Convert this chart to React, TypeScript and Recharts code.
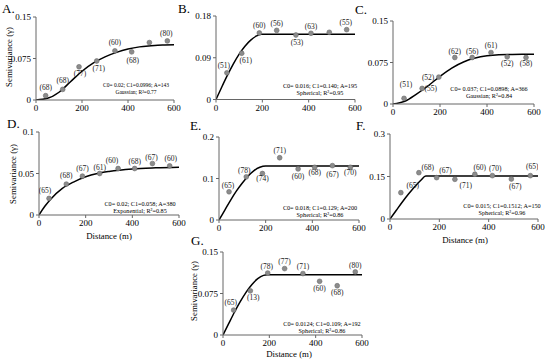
import React from 'react';
import { ComposedChart, Line, Scatter, XAxis, YAxis } from 'recharts';

const FONT = "'Liberation Serif', 'Times New Roman', serif";
const distanceTicks = [0, 200, 400, 600];

// ---------- Panel A (Gaussian) ----------
const aLag = [42, 116, 187, 264, 343, 416, 493, 571];
const aGamma = [0.0078, 0.0192, 0.06, 0.0705, 0.0888, 0.087, 0.1038, 0.1068];
const aPairs = [68, 68, 77, 71, 60, 68, null, 80];
const aModelDist = [0, 50, 100, 150, 200, 250, 300, 350, 400, 450, 500, 550, 600];
const aModelGamma = [0, 0.003, 0.014, 0.033, 0.052, 0.067, 0.078, 0.086, 0.092, 0.096, 0.098, 0.0995, 0.1];
const aYTicks = [0, 0.075, 0.15];

// ---------- Panel B (Spherical) ----------
const bLag = [47, 111, 187, 262, 345, 410, 489, 564];
const bGamma = [0.0574, 0.0997, 0.1434, 0.149, 0.139, 0.1427, 0.1449, 0.1506];
const bPairs = [51, 61, 60, 56, 53, 63, null, 55];
const bModelDist = [0, 25, 50, 75, 100, 125, 150, 175, 195, 600];
const bModelGamma = [0, 0.027, 0.053, 0.077, 0.098, 0.115, 0.128, 0.137, 0.1405, 0.1405];
const bYTicks = [0, 0.09, 0.18];

// ---------- Panel C (Gaussian) ----------
const cLag = [47, 124, 195, 263, 337, 417, 486, 566];
const cGamma = [0.0102, 0.0282, 0.0486, 0.084, 0.084, 0.093, 0.0852, 0.084];
const cPairs = [51, 52, 55, 62, 56, 61, 52, 58];
const cModelDist = [0, 50, 100, 150, 200, 250, 300, 350, 400, 450, 500, 550, 600];
const cModelGamma = [0, 0.005, 0.018, 0.033, 0.05, 0.065, 0.076, 0.083, 0.087, 0.089, 0.0895, 0.0898, 0.0898];
const cYTicks = [0, 0.075, 0.15];

// ---------- Panel D (Exponential) ----------
const dLag = [43, 117, 186, 260, 339, 410, 486, 560];
const dGamma = [0.02, 0.0372, 0.0468, 0.05, 0.056, 0.056, 0.062, 0.0592];
const dPairs = [65, 68, 67, 61, 60, 68, 67, 60];
const dModelDist = [0, 25, 50, 100, 150, 200, 250, 300, 400, 500, 600];
const dModelGamma = [0, 0.0105, 0.019, 0.032, 0.04, 0.046, 0.05, 0.0525, 0.0555, 0.0568, 0.0575];
const dYTicks = [0, 0.05, 0.1];

// ---------- Panel E (Spherical) ----------
const eLag = [43, 117, 186, 260, 339, 410, 486, 563];
const eGamma = [0.068, 0.104, 0.112, 0.15, 0.123, 0.127, 0.131, 0.127];
const ePairs = [65, 78, 74, 71, 60, 68, 67, 70];
const eModelDist = [0, 25, 50, 75, 100, 125, 150, 175, 200, 600];
const eModelGamma = [0, 0.024, 0.048, 0.07, 0.089, 0.106, 0.119, 0.127, 0.13, 0.13];
const eYTicks = [0, 0.1, 0.2];

// ---------- Panel F (Spherical) ----------
const fLag = [44, 117, 189, 263, 344, 415, 492, 569];
const fGamma = [0.093, 0.1635, 0.146, 0.14, 0.158, 0.153, 0.141, 0.153];
const fPairs = [65, 68, 67, 71, 60, 70, 67, 65];
const fModelDist = [0, 25, 50, 75, 100, 125, 145, 600];
const fModelGamma = [0, 0.03, 0.06, 0.088, 0.114, 0.137, 0.1518, 0.1518];
const fYTicks = [0, 0.15, 0.3];

// ---------- Panel G (Spherical) ----------
const gLag = [46, 118, 193, 266, 345, 417, 493, 571];
const gGamma = [0.045, 0.0798, 0.112, 0.12, 0.111, 0.097, 0.089, 0.114];
const gPairs = [65, 13, 78, 77, 71, 60, 68, 80];
const gModelDist = [0, 25, 50, 75, 100, 125, 150, 175, 192, 600];
const gModelGamma = [0, 0.021, 0.0416, 0.0606, 0.0775, 0.0914, 0.1018, 0.1078, 0.109, 0.109];
const gYTicks = [0, 0.075, 0.15];

// label nudges (layout only): [dx, dy] of the pair-count label centre relative to its point
const aNudge = [[0, -7], [0, -7.5], [1, 6], [2, 7], [0, -7], [1, 8], [0, 0], [-1, -7]];
const bNudge = [[-3, -6], [4, 6.5], [0, -6.5], [0, -6], [1, 7], [0, -6], [0, 0], [-1, -6]];
const cNudge = [[2, -13], [6, -9.5], [-8, 11], [0, -5.5], [0, -5.5], [0, -6], [0, 6], [0, 6]];
const dNudge = [[-4, -7.5], [0, -7.5], [0, -7], [0, -5.5], [-6, -7.5], [0, -6], [-1, -5.5], [1, -6.5]];
const eNudge = [[-1, -5], [-2, -5], [0, 5], [0, -6], [0, 7], [0, 5], [0, 8.5], [0, 5]];
const fNudge = [[12, -6], [9, -4.5], [9, -6], [11, 6], [5, -6], [3, -6], [4, 7], [2, -8]];
const gNudge = [[-3, -7], [3, 6], [-1, -6], [0, -6], [0, -6], [0, 7], [0, 6], [0, -6]];

type Rect = { x0: number; x1: number; yT: number; yB: number };

const renderPoint = (props: any) => {
  const { cx, cy, payload } = props;
  if (cx == null || cy == null) return <g />;
  const n = payload.n;
  const nudge = payload.nudge || [0, 0];
  const dy = nudge[1] < 0 ? nudge[1] - 1 : nudge[1] + 0.3;
  return (
    <g>
      <circle cx={cx} cy={cy} r={2.4} fill="#8c8c8c" stroke="#6a6a6a" strokeWidth={0.6} />
      {n != null && (
        <text
          x={cx + nudge[0]}
          y={cy + dy + 2.6}
          textAnchor="middle"
          fontSize={7.5}
          fontFamily={FONT}
          fill="#222"
        >
          {`(${n})`}
        </text>
      )}
    </g>
  );
};

function Panel(props: {
  rect: Rect;
  yMax: number;
  yTicks: number[];
  lag: number[];
  gamma: number[];
  pairs: (number | null)[];
  nudges: number[][];
  modelDist: number[];
  modelGamma: number[];
}) {
  const { rect, yMax, yTicks, lag, gamma, pairs, nudges, modelDist, modelGamma } = props;
  const LW = 40;
  const TM = 8;
  const RM = 10;
  const BH = 26;
  const w = rect.x1 - rect.x0 + LW + RM;
  const h = rect.yB - rect.yT + TM + BH;
  const points = lag.map((d, i) => ({ d, g: gamma[i], n: pairs[i], nudge: nudges[i] }));
  const curve = modelDist.map((d, i) => ({ d, g: modelGamma[i] }));
  const tickStyle = { fontSize: 9, fill: '#000', fontFamily: FONT };
  return (
    <div style={{ position: 'absolute', left: rect.x0 - LW, top: rect.yT - TM }}>
      <ComposedChart width={w} height={h} margin={{ top: TM, right: RM, bottom: 0, left: 0 }}>
        <XAxis
          dataKey="d"
          type="number"
          domain={[0, 600]}
          ticks={distanceTicks}
          interval={0}
          height={BH}
          stroke="#666"
          tickSize={3}
          tickMargin={2}
          tick={tickStyle}
          allowDataOverflow
        />
        <YAxis
          type="number"
          domain={[0, yMax]}
          ticks={yTicks}
          interval={0}
          width={LW}
          stroke="#666"
          tickSize={3}
          tickMargin={2}
          tick={tickStyle}
          allowDataOverflow
        />
        <Line
          data={curve}
          dataKey="g"
          type="monotone"
          stroke="#000"
          strokeWidth={1.5}
          dot={false}
          activeDot={false}
          isAnimationActive={false}
        />
        <Scatter data={points} dataKey="g" shape={renderPoint} isAnimationActive={false} />
      </ComposedChart>
    </div>
  );
}

const rectA: Rect = { x0: 36, x1: 174, yT: 17, yB: 100 };
const rectB: Rect = { x0: 216, x1: 355, yT: 15.5, yB: 99 };
const rectC: Rect = { x0: 393, x1: 534, yT: 21, yB: 104 };
const rectD: Rect = { x0: 39, x1: 179, yT: 132, yB: 215 };
const rectE: Rect = { x0: 219, x1: 359, yT: 137, yB: 220 };
const rectF: Rect = { x0: 390, x1: 538, yT: 134, yB: 219 };
const rectG: Rect = { x0: 223, x1: 362, yT: 252, yB: 335 };

const panelLetters = ['A.', 'B.', 'C.', 'D.', 'E.', 'F.', 'G.'];
const letterPos = [[2, 13.3], [178, 13.3], [355, 14], [7, 128.3], [190, 130], [356, 130], [191, 245]];

const annotations = [
  ['C0= 0.02; C1=0.0996; A=143', 'Gaussian; R²=0.77'],
  ['C0= 0.016; C1=0.140; A=195', 'Spherical; R²=0.95'],
  ['C0= 0.037; C1=0.0898; A=366', 'Gaussian; R²=0.84'],
  ['C0= 0.02; C1=0.058; A=380', 'Exponential; R²=0.85'],
  ['C0= 0.018; C1=0.129; A=200', 'Spherical; R²=0.86'],
  ['C0= 0.015; C1=0.1512; A=150', 'Spherical; R²=0.96'],
  ['C0= 0.0124; C1=0.109; A=192', 'Spherical; R²=0.86'],
];
const annotationPos = [[136, 87], [320, 88], [489, 91], [140, 206], [320, 210], [502, 207.5], [322, 326]];

const yTitle = 'Semivariance (γ)';
const yTitlePos = [[12, 57], [16, 174], [196.5, 291]];
const xTitle = 'Distance (m)';
const xTitlePos = [[109, 238.5], [465, 243], [289, 357]];

export default function App() {
  return (
    <div
      style={{
        position: 'absolute',
        left: 0,
        top: 0,
        width: 550,
        height: 364,
        overflow: 'hidden',
        background: '#fff',
      }}
    >
      <Panel rect={rectA} yMax={0.15} yTicks={aYTicks} lag={aLag} gamma={aGamma} pairs={aPairs} nudges={aNudge} modelDist={aModelDist} modelGamma={aModelGamma} />
      <Panel rect={rectB} yMax={0.18} yTicks={bYTicks} lag={bLag} gamma={bGamma} pairs={bPairs} nudges={bNudge} modelDist={bModelDist} modelGamma={bModelGamma} />
      <Panel rect={rectC} yMax={0.15} yTicks={cYTicks} lag={cLag} gamma={cGamma} pairs={cPairs} nudges={cNudge} modelDist={cModelDist} modelGamma={cModelGamma} />
      <Panel rect={rectD} yMax={0.1} yTicks={dYTicks} lag={dLag} gamma={dGamma} pairs={dPairs} nudges={dNudge} modelDist={dModelDist} modelGamma={dModelGamma} />
      <Panel rect={rectE} yMax={0.2} yTicks={eYTicks} lag={eLag} gamma={eGamma} pairs={ePairs} nudges={eNudge} modelDist={eModelDist} modelGamma={eModelGamma} />
      <Panel rect={rectF} yMax={0.3} yTicks={fYTicks} lag={fLag} gamma={fGamma} pairs={fPairs} nudges={fNudge} modelDist={fModelDist} modelGamma={fModelGamma} />
      <Panel rect={rectG} yMax={0.15} yTicks={gYTicks} lag={gLag} gamma={gGamma} pairs={gPairs} nudges={gNudge} modelDist={gModelDist} modelGamma={gModelGamma} />
      <svg
        width={550}
        height={364}
        style={{ position: 'absolute', left: 0, top: 0, pointerEvents: 'none' }}
        fontFamily={FONT}
      >
        {panelLetters.map((t, i) => (
          <text key={'l' + i} x={letterPos[i][0]} y={letterPos[i][1]} fontSize={13} fill="#000">
            {t}
          </text>
        ))}
        {annotations.map((lines, i) => (
          <g key={'a' + i}>
            <text x={annotationPos[i][0]} y={annotationPos[i][1]} fontSize={i === 0 ? 5.5 : 6.2} textAnchor="middle" fill="#000">
              {lines[0]}
            </text>
            <text x={annotationPos[i][0]} y={annotationPos[i][1] + 7.3} fontSize={i === 0 ? 5.5 : 6.2} textAnchor="middle" fill="#000">
              {lines[1]}
            </text>
          </g>
        ))}
        {yTitlePos.map((p, i) => (
          <text
            key={'y' + i}
            x={p[0]}
            y={p[1]}
            fontSize={8.8}
            textAnchor="middle"
            fill="#000"
            transform={`rotate(-90 ${p[0]} ${p[1]})`}
          >
            {yTitle}
          </text>
        ))}
        {xTitlePos.map((p, i) => (
          <text key={'x' + i} x={p[0]} y={p[1]} fontSize={8.8} textAnchor="middle" fill="#000">
            {xTitle}
          </text>
        ))}
      </svg>
    </div>
  );
}
